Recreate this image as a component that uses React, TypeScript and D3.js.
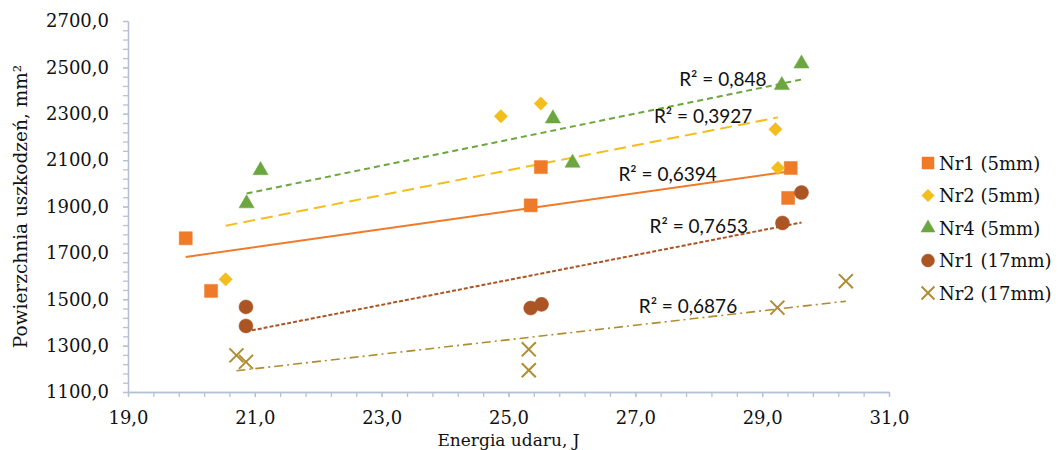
import React, { useEffect, useRef } from "react";
import * as d3 from "d3";

// Energia udaru [J] vs Powierzchnia uszkodzeń [mm²]
const nr1_5mm_x = [19.91, 20.31, 25.35, 25.51, 29.45, 29.41];
const nr1_5mm_y = [1763, 1536, 1905, 2070, 2066, 1937];

const nr2_5mm_x = [20.54, 24.88, 25.51, 29.21, 29.25];
const nr2_5mm_y = [1586, 2289, 2344, 2233, 2066];

const nr4_5mm_x = [20.87, 21.09, 25.7, 26.01, 29.31, 29.62];
const nr4_5mm_y = [1913, 2056, 2279, 2088, 2423, 2516];

const nr1_17mm_x = [20.86, 20.86, 25.35, 25.52, 29.32, 29.62];
const nr1_17mm_y = [1467, 1385, 1462, 1478, 1829, 1960];

const nr2_17mm_x = [20.71, 20.86, 25.32, 25.32, 29.24, 30.32];
const nr2_17mm_y = [1258, 1230, 1284, 1194, 1464, 1578];

const seriesNames = ["Nr1 (5mm)", "Nr2 (5mm)", "Nr4 (5mm)", "Nr1 (17mm)", "Nr2 (17mm)"];
const r2Labels = ["R² = 0,6394", "R² = 0,3927", "R² = 0,848", "R² = 0,7653", "R² = 0,6876"];
// where the R² labels sit, in data units
const r2AtX = [27.51, 28.07, 28.38, 28.0, 27.83];
const r2AtY = [2043, 2293, 2453, 1819, 1474];

const xTicks = [19, 21, 23, 25, 27, 29, 31];
const yTicks = [1100, 1300, 1500, 1700, 1900, 2100, 2300, 2500, 2700];

const colors = ["#EF7A28", "#F3BE1C", "#6BA63F", "#AB5424", "#AF8C2F"];
const symbols = [d3.symbolSquare, d3.symbolSquare, d3.symbolTriangle, d3.symbolCircle, d3.symbolTimes];
const symbolSizes = [170, 90, 100, 155, 130];
const dashes = ["", "12,6", "6,4", "4,2", "9,4,2,4"];
const lineWidths = [2, 2, 2, 2, 1.6];

const W = 1058;
const H = 450;
const margin = { top: 21, right: 169, bottom: 58, left: 128 };
const axisColor = "#B6C1D8";
const serif = "'DejaVu Serif', serif";
const sans = "Lato, 'Liberation Sans', sans-serif";

const fmt = (d: number) => d.toFixed(1).replace(".", ",");

const fitLine = (xs: number[], ys: number[]) => {
  const mx = d3.mean(xs)!;
  const my = d3.mean(ys)!;
  let sxy = 0;
  let sxx = 0;
  xs.forEach((x, i) => {
    sxy += (x - mx) * (ys[i] - my);
    sxx += (x - mx) * (x - mx);
  });
  const slope = sxy / sxx;
  const x0 = d3.min(xs)!;
  const x1 = d3.max(xs)!;
  return [
    [x0, my + slope * (x0 - mx)],
    [x1, my + slope * (x1 - mx)],
  ];
};

export default function App() {
  const ref = useRef<SVGSVGElement>(null);

  useEffect(() => {
    const svg = d3.select(ref.current);
    svg.selectAll("*").remove();

    const allX = [nr1_5mm_x, nr2_5mm_x, nr4_5mm_x, nr1_17mm_x, nr2_17mm_x];
    const allY = [nr1_5mm_y, nr2_5mm_y, nr4_5mm_y, nr1_17mm_y, nr2_17mm_y];

    const x = d3.scaleLinear().domain([19, 31]).range([margin.left, W - margin.right]);
    const y = d3.scaleLinear().domain([1100, 2700]).range([H - margin.bottom, margin.top]);

    // minor ticks
    svg
      .append("g")
      .attr("transform", `translate(${margin.left},0)`)
      .call(d3.axisLeft(y).tickValues(d3.range(1100, 2701, 40)).tickFormat(() => "").tickSize(5).tickSizeOuter(0))
      .call((g) => g.selectAll("line,path").attr("stroke", axisColor).attr("stroke-width", 1.3));

    svg
      .append("g")
      .attr("transform", `translate(0,${H - margin.bottom})`)
      .call(
        d3
          .axisBottom(x)
          .tickValues(d3.range(0, 31).map((i) => 19 + i * 0.4))
          .tickFormat(() => "")
          .tickSize(5)
          .tickSizeOuter(0)
      )
      .call((g) => g.selectAll("line,path").attr("stroke", axisColor).attr("stroke-width", 1.3));

    // major ticks + labels
    svg
      .append("g")
      .attr("transform", `translate(${margin.left},0)`)
      .call(d3.axisLeft(y).tickValues(yTicks).tickFormat((d) => fmt(+d)).tickSize(5).tickPadding(14).tickSizeOuter(0))
      .call((g) => g.selectAll("line,path").attr("stroke", axisColor).attr("stroke-width", 1.3))
      .call((g) =>
        g.selectAll("text").attr("fill", "#111").style("font-family", serif).style("font-size", "18px")
      );

    svg
      .append("g")
      .attr("transform", `translate(0,${H - margin.bottom})`)
      .call(d3.axisBottom(x).tickValues(xTicks).tickFormat((d) => fmt(+d)).tickSize(5).tickPadding(14).tickSizeOuter(0))
      .call((g) => g.selectAll("line,path").attr("stroke", axisColor).attr("stroke-width", 1.3))
      .call((g) =>
        g.selectAll("text").attr("fill", "#111").style("font-family", serif).style("font-size", "18px")
      );

    // trendlines
    const line = d3
      .line<number[]>()
      .x((d) => x(d[0]))
      .y((d) => y(d[1]));

    allX.forEach((xs, i) => {
      svg
        .append("path")
        .attr("d", line(fitLine(xs, allY[i])))
        .attr("fill", "none")
        .attr("stroke", colors[i])
        .attr("stroke-width", lineWidths[i])
        .attr("stroke-dasharray", dashes[i]);
    });

    // markers
    allX.forEach((xs, i) => {
      const sym = d3.symbol().type(symbols[i]).size(symbolSizes[i]);
      const isCross = symbols[i] === d3.symbolTimes;
      svg
        .append("g")
        .selectAll("path")
        .data(xs.map((v, j) => [v, allY[i][j]]))
        .join("path")
        .attr("d", sym)
        .attr("transform", (d) => `translate(${x(d[0])},${y(d[1])})${i === 1 ? " rotate(45)" : ""}`)
        .attr("fill", isCross ? "none" : colors[i])
        .attr("stroke", colors[i])
        .attr("stroke-width", isCross ? 2 : 0.5);
    });

    // R² labels
    r2Labels.forEach((t, i) => {
      svg
        .append("text")
        .attr("x", x(r2AtX[i]))
        .attr("y", y(r2AtY[i]))
        .attr("text-anchor", "middle")
        .attr("dominant-baseline", "central")
        .style("font-family", sans)
        .style("font-size", "19px")
        .attr("fill", "#111")
        .text(t);
    });

    // axis titles
    svg
      .append("text")
      .attr("transform", `translate(20,${(margin.top + H - margin.bottom) / 2}) rotate(-90)`)
      .attr("text-anchor", "middle")
      .attr("dominant-baseline", "central")
      .style("font-family", serif)
      .style("font-size", "18.5px")
      .attr("fill", "#111")
      .text("Powierzchnia uszkodzeń, mm²");

    svg
      .append("text")
      .attr("x", (margin.left + W - margin.right) / 2)
      .attr("y", 446)
      .attr("text-anchor", "middle")
      .style("font-family", serif)
      .style("font-size", "17px")
      .attr("fill", "#111")
      .text("Energia udaru, J");

    // legend
    const legend = svg
      .append("g")
      .selectAll("g")
      .data(seriesNames)
      .join("g")
      .attr("transform", (d, i) => `translate(928,${163 + i * 32.5})`);

    legend
      .append("path")
      .attr("d", (d, i) => d3.symbol().type(symbols[i]).size(symbolSizes[i] * 0.85)())
      .attr("transform", (d, i) => (i === 1 ? "rotate(45)" : ""))
      .attr("fill", (d, i) => (i === 4 ? "none" : colors[i]))
      .attr("stroke", (d, i) => colors[i])
      .attr("stroke-width", (d, i) => (i === 4 ? 2 : 0.5));

    legend
      .append("text")
      .attr("x", 11)
      .attr("dominant-baseline", "central")
      .style("font-family", serif)
      .style("font-size", "18px")
      .attr("fill", "#111")
      .text((d) => d);
  }, []);

  return (
    <svg
      ref={ref}
      width={W}
      height={H}
      style={{ position: "absolute", left: 0, top: 0, background: "#fff", display: "block" }}
    />
  );
}
